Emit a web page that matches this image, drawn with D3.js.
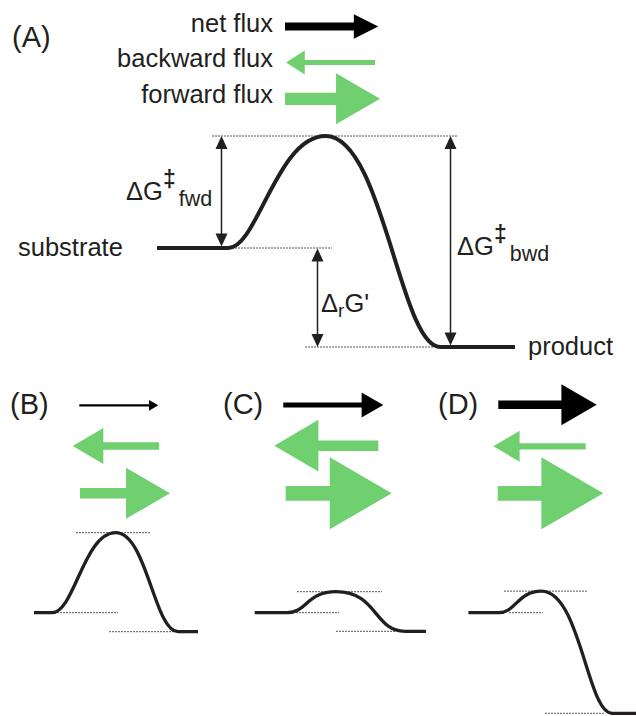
<!DOCTYPE html>
<html><head><meta charset="utf-8">
<script src="https://cdn.jsdelivr.net/npm/d3@7"></script>
<style>body{margin:0;background:#fff}svg{display:block}</style>
</head><body>
<svg id="chart" width="636" height="716"></svg>
<script>
// ---------------- data ----------------
const panelLabels = ["(A)", "(B)", "(C)", "(D)"];
const fluxLabels = ["net flux", "backward flux", "forward flux"];
// relative flux magnitudes (A = legend key)
const netFlux = [0.34, 0.15, 0.35, 0.57];
const backwardFlux = [0.33, 0.50, 0.72, 0.43];
const forwardFlux = [0.71, 0.71, 1.00, 1.00];
// Gibbs energies relative to substrate (schematic, kJ/mol)
const G_substrate = [0, 0, 0, 0];
const G_transition = [28, 20, 5.25, 5.4];
const G_product = [-24.75, -4.75, -4.65, -25.15];
// reaction-coordinate knots (0-10) of each profile
const rcSubstrateEnd = [1.99, 1.1, 1.9, 1.8];
const rcTransition = [4.71, 4.98, 4.75, 4.36];
const rcProductStart = [7.91, 8.78, 8.77, 8.57];
const energyLabels = ["fwd", "r", "bwd"];
const stateLabels = ["substrate", "product"];

// ---------------- layout ----------------
const INK = "#231f20", GREEN = "#70d070", FONT = "'Liberation Sans', Arial, Helvetica, sans-serif";
const layout = [
  { x: [157, 515], base: 248, stroke: 4, handles: { sub: 0.3, ts: 0.5, prod: 0.35 },
    dots: { ts: [212, 457], sub: [235, 332], prod: [305, 433] },
    arrows: { net: [285, 378.3, 26.5], bwd: [286, 375, 62.5], fwd: [285, 380, 98.8] },
    shaftRatio: { net: 3.15, bwd: 4.9, fwd: 4.17 }, lenRatio: { net: 1.0, bwd: 0.79, fwd: 0.86 },
    label: [12, 47] },
  { x: [34, 198], base: 612.7, stroke: 3.3, handles: { sub: 0.35, ts: 0.5, prod: 0.38 },
    dots: { ts: [76, 151], sub: [57, 118], prod: [109, 177] },
    arrows: { net: [79.3, 158.3, 405.3], bwd: [72.7, 159, 446], fwd: [80, 170, 493.3] },
    label: [10, 414] },
  { x: [254.7, 426], base: 612.7, stroke: 3.3, handles: { sub: 0.4, ts: 0.6, prod: 0.45 },
    dots: { ts: [297, 382], sub: [296, 339], prod: [336, 395] },
    arrows: { net: [283.3, 383.3, 405], bwd: [274.3, 378.3, 445.7], fwd: [285.7, 391.7, 493.3] },
    label: [223, 414] },
  { x: [468.4, 636], base: 612.7, stroke: 3.3, handles: { sub: 0.4, ts: 0.55, prod: 0.35 },
    dots: { ts: [504, 587], sub: [509, 543], prod: [545, 604] },
    arrows: { net: [498.3, 596.7, 404.7], bwd: [493.3, 585.7, 446.3], fwd: [497.7, 603.3, 493.3] },
    label: [438, 414] }
];
const PX_PER_UNIT = 4;
const headScale = d3.scaleLinear().domain([0, 1]).range([0, 72]);

const svg = d3.select("#chart");
const gAll = svg.append("g");

function blockArrow(g, tail, tip, cy, flux, shaftRatio, lenRatio, color) {
  const h = headScale(flux), s = h / shaftRatio, L = h * lenRatio;
  const dir = tip > tail ? 1 : -1;
  const b = tip - dir * L;
  const pts = [[tail, cy - s / 2], [b, cy - s / 2], [b, cy - h / 2], [tip, cy], [b, cy + h / 2], [b, cy + s / 2], [tail, cy + s / 2]];
  g.append("path").attr("d", d3.line()(pts) + "Z").attr("fill", color);
}

function doubleArrow(g, x, y1, y2) {
  const hw = 6, hl = 13;
  g.append("line").attr("x1", x).attr("x2", x).attr("y1", y1 + hl - 1).attr("y2", y2 - hl + 1)
    .attr("stroke", INK).attr("stroke-width", 1.5);
  g.append("path").attr("d", d3.line()([[x, y1], [x - hw, y1 + hl], [x + hw, y1 + hl]]) + "Z").attr("fill", INK);
  g.append("path").attr("d", d3.line()([[x, y2], [x - hw, y2 - hl], [x + hw, y2 - hl]]) + "Z").attr("fill", INK);
}

// smooth energy profile: flat – S-curve – peak – S-curve – flat (cubic Béziers with horizontal tangents)
function profilePath(knots, x, y) {
  const p = d3.path();
  p.moveTo(x(knots[0].rc), y(knots[0].G));
  for (let k = 1; k < knots.length; k++) {
    const a = knots[k - 1], b = knots[k];
    const xa = x(a.rc), xb = x(b.rc), ya = y(a.G), yb = y(b.G), dx = xb - xa;
    if (a.G === b.G) p.lineTo(xb, yb);
    else p.bezierCurveTo(xa + a.h * dx, ya, xb - b.h * dx, yb, xb, yb);
  }
  return p.toString();
}

layout.forEach((L, i) => {
  const g = gAll.append("g");
  const x = d3.scaleLinear().domain([0, 10]).range(L.x);
  const y = d3.scaleLinear().domain([0, 1]).range([L.base, L.base - PX_PER_UNIT]);

  // dotted reference levels
  const levels = [["ts", G_transition[i]], ["sub", G_substrate[i]], ["prod", G_product[i]]];
  levels.forEach(([k, v]) => {
    g.append("line").attr("x1", L.dots[k][0]).attr("x2", L.dots[k][1])
      .attr("y1", y(v)).attr("y2", y(v))
      .attr("stroke", "#555").attr("stroke-width", 1).attr("stroke-dasharray", "2,1");
  });

  // energy profile
  const H = L.handles;
  const knots = [
    { rc: 0, G: G_substrate[i], h: 0 },
    { rc: rcSubstrateEnd[i], G: G_substrate[i], h: H.sub },
    { rc: rcTransition[i], G: G_transition[i], h: H.ts },
    { rc: rcProductStart[i], G: G_product[i], h: H.prod },
    { rc: 10, G: G_product[i], h: 0 }
  ];
  g.append("path").attr("d", profilePath(knots, x, y))
    .attr("fill", "none").attr("stroke", INK).attr("stroke-width", L.stroke)
    .attr("stroke-linejoin", "round");

  // flux arrows
  const sr = L.shaftRatio || { net: 4.9, bwd: 4.9, fwd: 4.9 };
  const lr = L.lenRatio || { net: 0.86, bwd: 0.85, fwd: 0.86 };
  const a = L.arrows;
  blockArrow(g, a.net[0], a.net[1], a.net[2], netFlux[i], sr.net, lr.net, "#000");
  blockArrow(g, a.bwd[1], a.bwd[0], a.bwd[2], backwardFlux[i], sr.bwd, lr.bwd, GREEN);
  blockArrow(g, a.fwd[0], a.fwd[1], a.fwd[2], forwardFlux[i], sr.fwd, lr.fwd, GREEN);

  // panel label
  g.append("text").attr("x", L.label[0]).attr("y", L.label[1]).text(panelLabels[i])
    .attr("font-family", FONT).attr("font-size", 29).attr("fill", INK);

  if (i === 0) {
    // legend texts
    [31.7, 66.7, 103.3].forEach((by, j) => {
      g.append("text").attr("x", 273).attr("y", by).attr("text-anchor", "end")
        .text(fluxLabels[j]).attr("font-family", FONT).attr("font-size", 25.5).attr("fill", INK);
    });
    // energy difference arrows
    doubleArrow(g, 221.5, y(G_transition[0]), y(G_substrate[0]) - 1.5);
    doubleArrow(g, 317.5, y(G_substrate[0]) + 0.5, y(G_product[0]));
    doubleArrow(g, 450.5, y(G_transition[0]), y(G_product[0]) - 1.5);

    const txt = (xx, yy) => g.append("text").attr("x", xx).attr("y", yy)
      .attr("font-family", FONT).attr("font-size", 25.5).attr("fill", INK);
    // ΔG‡fwd
    let t = txt(126, 200);
    t.append("tspan").text("ΔG");
    t.append("tspan").attr("font-size", 23).attr("dy", -13).attr("font-weight", "bold").text("‡");
    t.append("tspan").attr("font-size", 21.5).attr("dx", 3).attr("dy", 18.7).text(energyLabels[0]);
    // ΔrG'
    t = txt(321, 311.7);
    t.append("tspan").text("Δ");
    t.append("tspan").attr("font-size", 19).attr("dy", 5).text(energyLabels[1]);
    t.append("tspan").attr("dy", -5).text("G'");
    // ΔG‡bwd
    t = txt(457, 255);
    t.append("tspan").text("ΔG");
    t.append("tspan").attr("font-size", 23).attr("dy", -13).attr("font-weight", "bold").text("‡");
    t.append("tspan").attr("font-size", 21.5).attr("dx", 3).attr("dy", 18.7).text(energyLabels[2]);
    // state labels
    txt(18, 256).text(stateLabels[0]);
    txt(528, 355).text(stateLabels[1]);
  }
});
</script>
</body></html>
